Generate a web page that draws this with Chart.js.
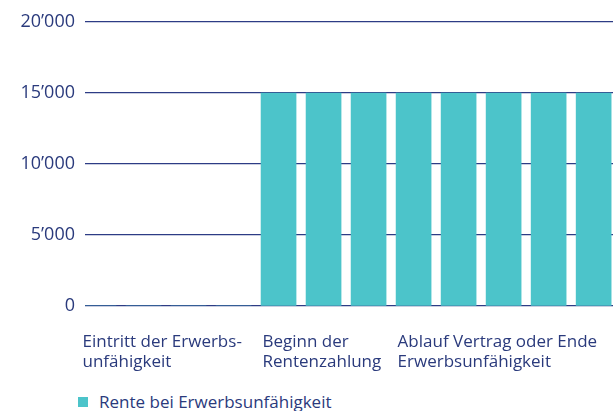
<!DOCTYPE html>
<html>
<head>
<meta charset="utf-8">
<script src="https://cdn.jsdelivr.net/npm/chart.js@4/dist/chart.umd.min.js"></script>
<style>
  body { margin: 0; background: #fff; font-family: "Open Sans", sans-serif; }
  #wrap { position: relative; width: 613px; height: 390px; }
  #legend { position: absolute; left: 78px; top: 390px; display: flex; align-items: center; color: #2a3a7c; font-size: 17px; white-space: nowrap; }
  #legend .box { width: 10px; height: 10px; background: #4cc4ca; margin-right: 11px; }
</style>
</head>
<body>
<div id="wrap"><canvas id="chart"></canvas></div>
<div id="legend"><span class="box"></span><span>Rente bei Erwerbsunfähigkeit</span></div>
<script>
const steps = [0, 1, 2, 3, 4, 5, 6, 7, 8, 9, 10, 11];
const renteValues = [0, 0, 0, 0, 15000, 15000, 15000, 15000, 15000, 15000, 15000, 15000];
const seriesName = "Rente bei Erwerbsunfähigkeit";
const labelSteps = [0, 4, 7];
const stepLabels = [
  ["Eintritt der Erwerbs-", "unfähigkeit"],
  ["Beginn der", "Rentenzahlung"],
  ["Ablauf Vertrag oder Ende", "Erwerbsunfähigkeit"],
];
const yTicks = [0, 5000, 10000, 15000, 20000];

const textColor = "#2a3a7c";
const gridColor = "#2d3c85";
const barColor = "#4cc4ca";

function formatSwiss(value) {
  return String(value).replace(/\B(?=(\d{3})+(?!\d))/g, "\u2019");
}

const ctx = document.getElementById("chart");
new Chart(ctx, {
  type: "bar",
  data: {
    datasets: [
      {
        label: seriesName,
        data: steps.map((x, i) => ({ x, y: renteValues[i] })),
        backgroundColor: barColor,
        borderWidth: 0,
        barThickness: 35,
      },
    ],
  },
  options: {
    responsive: true,
    maintainAspectRatio: false,
    animation: false,
    layout: { padding: { top: 22, left: 0, right: 0, bottom: 0 } },
    plugins: {
      legend: { display: false },
      tooltip: { enabled: false },
    },
    scales: {
      x: {
        type: "linear",
        offset: false,
        min: -0.3,
        max: 11.43,
        grid: { display: false, offset: false },
        border: { display: false },
        afterBuildTicks: (scale) => {
          scale.ticks = labelSteps.map((value) => ({ value }));
        },
        afterFit: (scale) => {
          scale.height = 84;
          scale.paddingLeft = 0;
          scale.paddingRight = 0;
        },
        ticks: {
          autoSkip: false,
          maxRotation: 0,
          align: "start",
          labelOffset: -16,
          padding: 18,
          color: textColor,
          font: { family: "Open Sans", size: 17 },
          callback: (value) => {
            const idx = labelSteps.indexOf(value);
            return idx >= 0 ? stepLabels[idx] : "";
          },
        },
      },
      y: {
        min: 0,
        max: 20000,
        afterBuildTicks: (scale) => {
          scale.ticks = yTicks.map((value) => ({ value }));
        },
        afterFit: (scale) => {
          scale.width = 85;
        },
        grid: { color: gridColor, lineWidth: 1.2, drawTicks: false },
        border: { display: false },
        ticks: {
          padding: 10,
          color: textColor,
          font: { family: "Open Sans", size: 18 },
          callback: (value) => formatSwiss(value),
        },
      },
    },
  },
});
</script>
</body>
</html>
